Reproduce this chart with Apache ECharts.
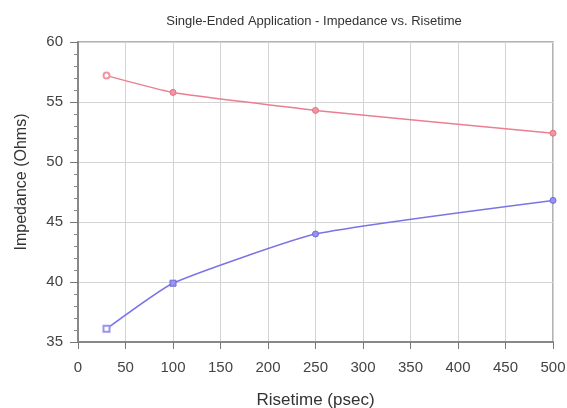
<!DOCTYPE html>
<html>
<head>
<meta charset="utf-8">
<script src="https://cdn.jsdelivr.net/npm/echarts@6/dist/echarts.min.js"></script>
<style>
html,body{margin:0;padding:0;background:#fff;}
#c{width:567px;height:408px;}
</style>
</head>
<body>
<div id="c"></div>
<script>
var risetime = [30, 100, 250, 500];
var upperImpedance = [57.2, 55.8, 54.3, 52.4];
var lowerImpedance = [36.1, 39.9, 44.0, 46.8];
var xTicks = [0, 50, 100, 150, 200, 250, 300, 350, 400, 450, 500];
var yTicks = [35, 40, 45, 50, 55, 60];

var redSymbols = ['emptyCircle', 'circle', 'circle', 'circle'];
var blueSymbols = ['emptyRect', 'rect', 'circle', 'circle'];

function pts(xs, ys, syms) {
  return xs.map(function (x, i) {
    return { value: [x, ys[i]], symbol: syms[i] };
  });
}

var chart = echarts.init(document.getElementById('c'));
var fontFam = '"Liberation Sans", Arial, sans-serif';
chart.setOption({
  backgroundColor: '#fff',
  animation: false,
  title: {
    text: 'Single-Ended Application - Impedance vs. Risetime',
    left: 309, top: 10, textAlign: 'center',
    textStyle: { fontFamily: fontFam, fontSize: 13, fontWeight: 'normal', color: '#333' }
  },
  grid: {
    left: 78, right: 14, top: 42, bottom: 66, show: true, borderColor: '#999', borderWidth: 1.5,
    containLabel: false, outerBoundsMode: 'none'
  },
  xAxis: {
    type: 'value', min: xTicks[0], max: xTicks[xTicks.length - 1], interval: 50,
    name: 'Risetime (psec)', nameLocation: 'middle', nameGap: 50,
    nameTextStyle: { fontFamily: fontFam, fontSize: 17, color: '#333' },
    axisLine: { lineStyle: { color: '#888', width: 2 } },
    axisTick: { show: true, length: 7, lineStyle: { color: '#777' } },
    axisLabel: { fontFamily: fontFam, fontSize: 15, color: '#444', margin: 18 },
    splitLine: { show: true, lineStyle: { color: '#d4d4d4', width: 1 } }
  },
  yAxis: {
    type: 'value', min: yTicks[0], max: yTicks[yTicks.length - 1], interval: 5,
    name: 'Impedance (Ohms)', nameLocation: 'middle', nameGap: 48,
    nameTextStyle: { fontFamily: fontFam, fontSize: 16, color: '#333', padding: [0, 0, 0, 20] },
    axisLine: { show: true, lineStyle: { color: '#888', width: 2 } },
    axisTick: { show: true, length: 8, lineStyle: { color: '#777' } },
    minorTick: { show: true, splitNumber: 5, length: 4, lineStyle: { color: '#888' } },
    axisLabel: { fontFamily: fontFam, fontSize: 15, color: '#444', margin: 15 },
    splitLine: { show: true, lineStyle: { color: '#d4d4d4', width: 1 } }
  },
  series: [
    {
      type: 'line', name: 'upper',
      data: pts(risetime, upperImpedance, redSymbols),
      smooth: 0.15, symbolSize: 6,
      lineStyle: { color: '#ec7f8f', width: 1.5 },
      itemStyle: { color: '#ee97a3', borderColor: '#e86f82' }
    },
    {
      type: 'line', name: 'lower',
      data: pts(risetime, lowerImpedance, blueSymbols),
      smooth: 0.15, symbolSize: 6,
      lineStyle: { color: '#7a74e6', width: 1.5 },
      itemStyle: { color: '#9893ec', borderColor: '#6f68e0' }
    }
  ]
});
</script>
</body>
</html>
